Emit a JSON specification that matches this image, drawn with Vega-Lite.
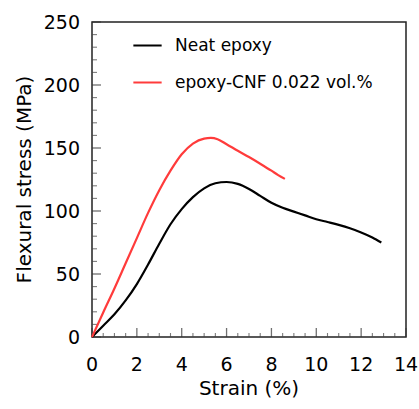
{
  "$schema": "https://vega.github.io/schema/vega-lite/v6.json",
  "width": 314,
  "height": 315,
  "autosize": {"type": "none"},
  "padding": {"left": 92, "top": 22, "right": 13, "bottom": 72},
  "background": "white",
  "config": {
    "font": "DejaVu Sans",
    "view": {"stroke": "#222", "strokeWidth": 1.5}
  },
  "datasets": {
    "curves": [
      {"series": "Neat epoxy", "strain": 0, "stress": 0},
      {"series": "Neat epoxy", "strain": 0.5, "stress": 9},
      {"series": "Neat epoxy", "strain": 1.0, "stress": 18},
      {"series": "Neat epoxy", "strain": 1.5, "stress": 29},
      {"series": "Neat epoxy", "strain": 2.0, "stress": 42},
      {"series": "Neat epoxy", "strain": 2.5, "stress": 57.5},
      {"series": "Neat epoxy", "strain": 3.0, "stress": 74},
      {"series": "Neat epoxy", "strain": 3.5, "stress": 89.5},
      {"series": "Neat epoxy", "strain": 4.0, "stress": 101.5},
      {"series": "Neat epoxy", "strain": 4.5, "stress": 111},
      {"series": "Neat epoxy", "strain": 5.0, "stress": 118},
      {"series": "Neat epoxy", "strain": 5.5, "stress": 122},
      {"series": "Neat epoxy", "strain": 6.0, "stress": 123},
      {"series": "Neat epoxy", "strain": 6.5, "stress": 121.5},
      {"series": "Neat epoxy", "strain": 7.0, "stress": 117.5},
      {"series": "Neat epoxy", "strain": 7.5, "stress": 112},
      {"series": "Neat epoxy", "strain": 8.0, "stress": 106.5},
      {"series": "Neat epoxy", "strain": 8.5, "stress": 102.5},
      {"series": "Neat epoxy", "strain": 9.0, "stress": 99.5},
      {"series": "Neat epoxy", "strain": 9.5, "stress": 96.5},
      {"series": "Neat epoxy", "strain": 10.0, "stress": 93.5},
      {"series": "Neat epoxy", "strain": 10.5, "stress": 91.3},
      {"series": "Neat epoxy", "strain": 11.0, "stress": 89},
      {"series": "Neat epoxy", "strain": 11.5, "stress": 86.3},
      {"series": "Neat epoxy", "strain": 12.0, "stress": 83},
      {"series": "Neat epoxy", "strain": 12.5, "stress": 79},
      {"series": "Neat epoxy", "strain": 12.9, "stress": 75},
      {"series": "epoxy-CNF 0.022 vol.%", "strain": 0, "stress": 0},
      {"series": "epoxy-CNF 0.022 vol.%", "strain": 0.5, "stress": 19.5},
      {"series": "epoxy-CNF 0.022 vol.%", "strain": 1.0, "stress": 38.5},
      {"series": "epoxy-CNF 0.022 vol.%", "strain": 1.5, "stress": 58.5},
      {"series": "epoxy-CNF 0.022 vol.%", "strain": 2.0, "stress": 78.5},
      {"series": "epoxy-CNF 0.022 vol.%", "strain": 2.5, "stress": 98.5},
      {"series": "epoxy-CNF 0.022 vol.%", "strain": 3.0, "stress": 116.5},
      {"series": "epoxy-CNF 0.022 vol.%", "strain": 3.5, "stress": 132},
      {"series": "epoxy-CNF 0.022 vol.%", "strain": 4.0, "stress": 145},
      {"series": "epoxy-CNF 0.022 vol.%", "strain": 4.5, "stress": 153.5},
      {"series": "epoxy-CNF 0.022 vol.%", "strain": 5.0, "stress": 157.5},
      {"series": "epoxy-CNF 0.022 vol.%", "strain": 5.3, "stress": 158},
      {"series": "epoxy-CNF 0.022 vol.%", "strain": 5.6, "stress": 157},
      {"series": "epoxy-CNF 0.022 vol.%", "strain": 6.0, "stress": 153},
      {"series": "epoxy-CNF 0.022 vol.%", "strain": 6.5, "stress": 147.8},
      {"series": "epoxy-CNF 0.022 vol.%", "strain": 7.0, "stress": 142.8},
      {"series": "epoxy-CNF 0.022 vol.%", "strain": 7.5, "stress": 137.5},
      {"series": "epoxy-CNF 0.022 vol.%", "strain": 8.0, "stress": 132},
      {"series": "epoxy-CNF 0.022 vol.%", "strain": 8.3, "stress": 128.5},
      {"series": "epoxy-CNF 0.022 vol.%", "strain": 8.6, "stress": 125.5}
    ],
    "xticks": [
      {"strain": 0, "kind": "major", "label": "0"}, {"strain": 0.5, "kind": "minor"}, {"strain": 1, "kind": "minor"}, {"strain": 1.5, "kind": "minor"},
      {"strain": 2, "kind": "major", "label": "2"}, {"strain": 2.5, "kind": "minor"}, {"strain": 3, "kind": "minor"}, {"strain": 3.5, "kind": "minor"},
      {"strain": 4, "kind": "major", "label": "4"}, {"strain": 4.5, "kind": "minor"}, {"strain": 5, "kind": "minor"}, {"strain": 5.5, "kind": "minor"},
      {"strain": 6, "kind": "major", "label": "6"}, {"strain": 6.5, "kind": "minor"}, {"strain": 7, "kind": "minor"}, {"strain": 7.5, "kind": "minor"},
      {"strain": 8, "kind": "major", "label": "8"}, {"strain": 8.5, "kind": "minor"}, {"strain": 9, "kind": "minor"}, {"strain": 9.5, "kind": "minor"},
      {"strain": 10, "kind": "major", "label": "10"}, {"strain": 10.5, "kind": "minor"}, {"strain": 11, "kind": "minor"}, {"strain": 11.5, "kind": "minor"},
      {"strain": 12, "kind": "major", "label": "12"}, {"strain": 12.5, "kind": "minor"}, {"strain": 13, "kind": "minor"}, {"strain": 13.5, "kind": "minor"},
      {"strain": 14, "kind": "major", "label": "14"}
    ],
    "yticks": [
      {"stress": 0, "kind": "major", "label": "0"}, {"stress": 10, "kind": "minor"}, {"stress": 20, "kind": "minor"}, {"stress": 30, "kind": "minor"}, {"stress": 40, "kind": "minor"},
      {"stress": 50, "kind": "major", "label": "50"}, {"stress": 60, "kind": "minor"}, {"stress": 70, "kind": "minor"}, {"stress": 80, "kind": "minor"}, {"stress": 90, "kind": "minor"},
      {"stress": 100, "kind": "major", "label": "100"}, {"stress": 110, "kind": "minor"}, {"stress": 120, "kind": "minor"}, {"stress": 130, "kind": "minor"}, {"stress": 140, "kind": "minor"},
      {"stress": 150, "kind": "major", "label": "150"}, {"stress": 160, "kind": "minor"}, {"stress": 170, "kind": "minor"}, {"stress": 180, "kind": "minor"}, {"stress": 190, "kind": "minor"},
      {"stress": 200, "kind": "major", "label": "200"}, {"stress": 210, "kind": "minor"}, {"stress": 220, "kind": "minor"}, {"stress": 230, "kind": "minor"}, {"stress": 240, "kind": "minor"},
      {"stress": 250, "kind": "major", "label": "250"}
    ],
    "titles": [
      {"axis": "x", "title": "Strain (%)", "strain": 7, "stress": 0},
      {"axis": "y", "title": "Flexural stress (MPa)", "strain": 0, "stress": 125}
    ]
  },
  "layer": [
    {
      "data": {"name": "xticks"},
      "transform": [{"filter": "datum.kind === 'major'"}],
      "mark": {"type": "tick", "orient": "vertical", "size": 9, "thickness": 1.3, "color": "#333", "yOffset": -4.5},
      "encoding": {
        "x": {"field": "strain", "type": "quantitative", "scale": {"domain": [0, 14], "nice": false, "zero": false}, "axis": null},
        "y": {"datum": 0, "type": "quantitative", "scale": {"domain": [0, 250], "nice": false, "zero": false}, "axis": null}
      }
    },
    {
      "data": {"name": "xticks"},
      "transform": [{"filter": "datum.kind === 'minor'"}],
      "mark": {"type": "tick", "orient": "vertical", "size": 4, "thickness": 1.1, "color": "#444", "yOffset": -2},
      "encoding": {
        "x": {"field": "strain", "type": "quantitative", "axis": null},
        "y": {"datum": 0, "type": "quantitative", "axis": null}
      }
    },
    {
      "data": {"name": "yticks"},
      "transform": [{"filter": "datum.kind === 'major'"}],
      "mark": {"type": "tick", "orient": "horizontal", "size": 9, "thickness": 1.3, "color": "#333", "xOffset": 4.5},
      "encoding": {
        "x": {"datum": 0, "type": "quantitative", "axis": null},
        "y": {"field": "stress", "type": "quantitative", "axis": null}
      }
    },
    {
      "data": {"name": "yticks"},
      "transform": [{"filter": "datum.kind === 'minor'"}],
      "mark": {"type": "tick", "orient": "horizontal", "size": 5, "thickness": 1.1, "color": "#444", "xOffset": 2.5},
      "encoding": {
        "x": {"datum": 0, "type": "quantitative", "axis": null},
        "y": {"field": "stress", "type": "quantitative", "axis": null}
      }
    },
    {
      "data": {"name": "xticks"},
      "transform": [{"filter": "datum.kind === 'major'"}],
      "mark": {"type": "text", "fontSize": 19, "font": "DejaVu Sans", "color": "black", "align": "center", "baseline": "middle", "dy": 28},
      "encoding": {
        "x": {"field": "strain", "type": "quantitative", "axis": null},
        "y": {"datum": 0, "type": "quantitative", "axis": null},
        "text": {"field": "label"}
      }
    },
    {
      "data": {"name": "yticks"},
      "transform": [{"filter": "datum.kind === 'major'"}],
      "mark": {"type": "text", "fontSize": 19, "font": "DejaVu Sans", "color": "black", "align": "right", "baseline": "middle", "dx": -12, "dy": 1},
      "encoding": {
        "x": {"datum": 0, "type": "quantitative", "axis": null},
        "y": {"field": "stress", "type": "quantitative", "axis": null},
        "text": {"field": "label"}
      }
    },
    {
      "data": {"name": "titles"},
      "transform": [{"filter": "datum.axis === 'x'"}],
      "mark": {"type": "text", "fontSize": 20, "font": "DejaVu Sans", "color": "black", "align": "center", "baseline": "middle", "dy": 52},
      "encoding": {
        "x": {"field": "strain", "type": "quantitative", "axis": null},
        "y": {"field": "stress", "type": "quantitative", "axis": null},
        "text": {"field": "title"}
      }
    },
    {
      "data": {"name": "titles"},
      "transform": [{"filter": "datum.axis === 'y'"}],
      "mark": {"type": "text", "fontSize": 20, "font": "DejaVu Sans", "color": "black", "align": "center", "baseline": "middle", "angle": 270, "dy": -67},
      "encoding": {
        "x": {"field": "strain", "type": "quantitative", "axis": null},
        "y": {"field": "stress", "type": "quantitative", "axis": null},
        "text": {"field": "title"}
      }
    },
    {
      "data": {"name": "curves"},
      "mark": {"type": "line", "strokeWidth": 2.2, "interpolate": "monotone"},
      "encoding": {
        "x": {"field": "strain", "type": "quantitative", "axis": null},
        "y": {"field": "stress", "type": "quantitative", "axis": null},
        "color": {"field": "series", "type": "nominal",
          "scale": {"domain": ["Neat epoxy", "epoxy-CNF 0.022 vol.%"], "range": ["black", "#ff3b3b"]},
          "legend": {"orient": "none", "legendX": 40, "legendY": 8, "title": null, "symbolType": "stroke", "symbolSize": 800, "symbolStrokeWidth": 2, "labelFontSize": 17, "labelFont": "DejaVu Sans", "labelColor": "black", "labelOffset": 12, "labelLimit": 400, "rowPadding": 13, "padding": 0}}
      }
    }
  ]
}
